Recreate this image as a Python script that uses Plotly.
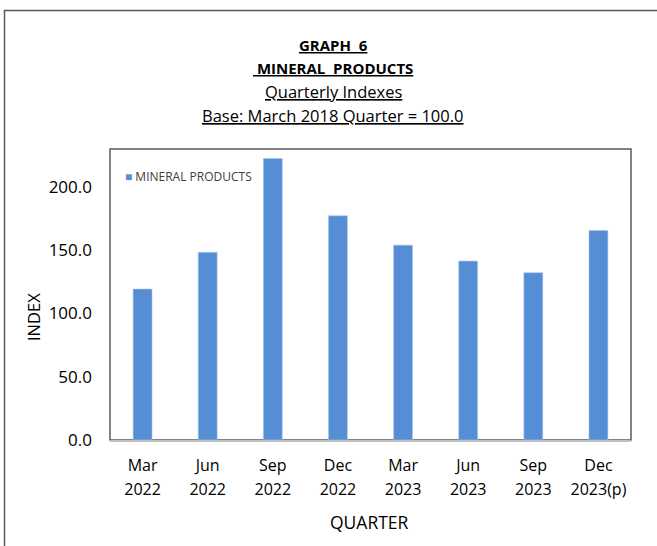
import plotly.graph_objects as go

# ---- data ----
quarters = ["Mar 2022", "Jun 2022", "Sep 2022", "Dec 2022",
            "Mar 2023", "Jun 2023", "Sep 2023", "Dec 2023(p)"]
month_labels = ["Mar", "Jun", "Sep", "Dec", "Mar", "Jun", "Sep", "Dec"]
year_labels = ["2022", "2022", "2022", "2022", "2023", "2023", "2023", "2023(p)"]
index_values = [119.3, 148.3, 222.5, 177.2, 154.0, 141.4, 132.2, 165.6]
y_ticks = [0, 50, 100, 150, 200]
y_tick_labels = ["0.0", "50.0", "100.0", "150.0", "200.0"]
series_name = "MINERAL PRODUCTS"

FONT = "Open Sans"
BAR_COLOR = "#558ed5"
W, H = 657, 546
# plot area in screenshot coords: x 110..631, y 149..440
L, R, T, B = 110, W - 631, 149, H - 440
PW, PH = W - L - R, H - T - B


def px_x(x):
    return (x - L) / PW


def px_y(y):
    return (H - B - y) / PH


fig = go.Figure()
fig.add_trace(go.Bar(
    x=quarters, y=index_values, name=series_name,
    marker=dict(color=BAR_COLOR, line=dict(color="#a8c4ea", width=0.6)),
    width=0.29, showlegend=False,
))
# invisible helper trace so the year axis is drawn
fig.add_trace(go.Scatter(
    x=list(range(len(year_labels))), y=[0] * len(year_labels), xaxis="x2",
    mode="markers", marker=dict(opacity=0), hoverinfo="skip", showlegend=False,
))

fig.update_layout(
    width=W, height=H,
    margin=dict(l=L, r=R, t=T, b=B),
    paper_bgcolor="white", plot_bgcolor="white",
    font=dict(family=FONT, size=16, color="#000000"),
    xaxis=dict(
        type="category", categoryorder="array", categoryarray=quarters,
        tickmode="array", tickvals=quarters, ticktext=month_labels,
        showgrid=False, zeroline=False, ticks="",
        showline=True, linecolor="#bfbfbf", linewidth=1.5,
        tickfont=dict(family=FONT, size=16, color="#000"),
        ticklabelstandoff=10,
        range=[-0.5, len(quarters) - 0.5],
    ),
    xaxis2=dict(
        type="linear", overlaying="x", anchor="y", side="bottom",
        range=[-0.5, len(quarters) - 0.5],
        tickmode="array", tickvals=list(range(len(year_labels))), ticktext=year_labels,
        showgrid=False, zeroline=False, ticks="", showline=False,
        tickfont=dict(family=FONT, size=16, color="#000"),
        ticklabelstandoff=38,
    ),
    yaxis=dict(
        range=[0, 230], tickmode="array", tickvals=y_ticks, ticktext=y_tick_labels,
        showgrid=False, zeroline=False, ticks="", showline=False,
        tickfont=dict(family=FONT, size=17, color="#000"),
        ticklabelstandoff=17,
    ),
)

# plot-area border and outer frame (frame's right/bottom edges lie outside the picture)
fig.add_shape(type="rect", xref="paper", yref="paper", x0=0, x1=1, y0=0, y1=1,
              line=dict(color="#595959", width=1.5), layer="below")
fig.add_shape(type="rect", xref="paper", yref="paper",
              x0=px_x(4.5), x1=px_x(720), y0=px_y(620), y1=px_y(10.5),
              line=dict(color="#595959", width=1.5), layer="below")

# titles
title_lines = [
    ("<b><u>GRAPH  6</u></b>", 45, 15),
    ("<b><u> MINERAL  PRODUCTS</u></b>", 68, 15),
    ("<u>Quarterly Indexes</u>", 91, 16.5),
    ("<u>Base: March 2018 Quarter = 100.0</u>", 116, 16.5),
]
for txt, yy, fs in title_lines:
    fig.add_annotation(text=txt, xref="paper", yref="paper",
                       x=px_x(333), y=px_y(yy), xanchor="center", yanchor="middle",
                       showarrow=False, font=dict(family=FONT, size=fs, color="#000"))

# axis titles
fig.add_annotation(text="INDEX", xref="paper", yref="paper", x=px_x(33), y=px_y(317),
                   textangle=-90, showarrow=False, xanchor="center", yanchor="middle",
                   font=dict(family=FONT, size=16.5, color="#000"))
fig.add_annotation(text="QUARTER", xref="paper", yref="paper", x=px_x(369), y=px_y(522),
                   showarrow=False, xanchor="center", yanchor="middle",
                   font=dict(family=FONT, size=17.5, color="#000"))

# legend (inside plot, top-left)
fig.add_annotation(text=f"<span style='color:{BAR_COLOR}'>■</span> {series_name}",
                   xref="paper", yref="paper", x=px_x(123), y=px_y(176),
                   xanchor="left", yanchor="middle", showarrow=False,
                   font=dict(family=FONT, size=12, color="#404040"))

fig.write_html("out.html", config={"displayModeBar": False},
               post_script="document.body.style.margin='0';")
